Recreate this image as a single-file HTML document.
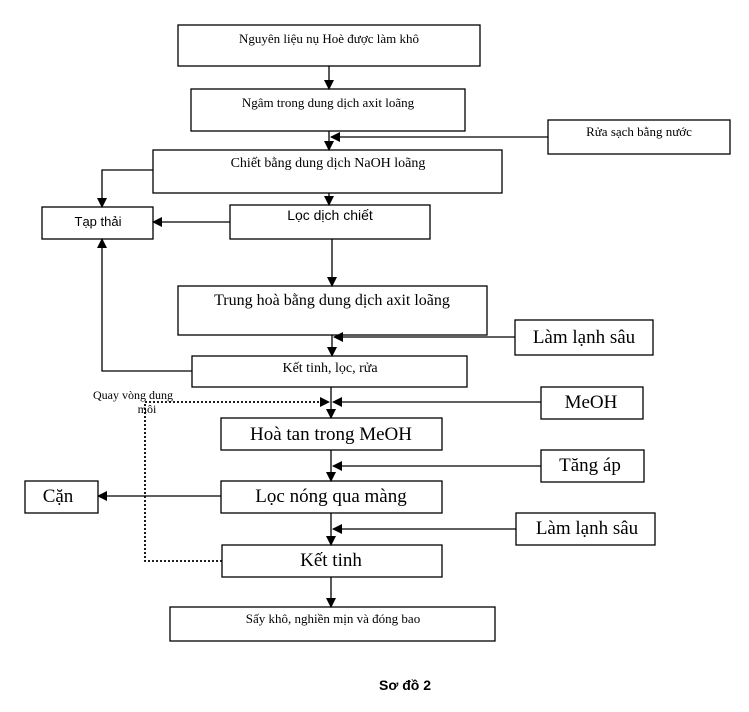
<!DOCTYPE html>
<html><head><meta charset="utf-8"><style>
body{margin:0;background:#fff;width:749px;height:707px;overflow:hidden}
</style></head><body>
<svg width="749" height="707" xmlns="http://www.w3.org/2000/svg" font-family="Liberation Serif, serif">
<defs><marker id="a" markerWidth="10" markerHeight="10" refX="9" refY="5" orient="auto" markerUnits="userSpaceOnUse"><path d="M0,0 L10,5 L0,10 z" fill="#000"/></marker></defs>
<g fill="none" stroke="#000" stroke-width="1.3">
<rect x="178" y="25" width="302" height="41"/>
<rect x="191" y="89" width="274" height="42"/>
<rect x="548" y="120" width="182" height="34"/>
<rect x="153" y="150" width="349" height="43"/>
<rect x="42" y="207" width="111" height="32"/>
<rect x="230" y="205" width="200" height="34"/>
<rect x="178" y="286" width="309" height="49"/>
<rect x="515" y="320" width="138" height="35"/>
<rect x="192" y="356" width="275" height="31"/>
<rect x="541" y="387" width="102" height="32"/>
<rect x="221" y="418" width="221" height="32"/>
<rect x="541" y="450" width="103" height="32"/>
<rect x="25" y="481" width="73" height="32"/>
<rect x="221" y="481" width="221" height="32"/>
<rect x="516" y="513" width="139" height="32"/>
<rect x="222" y="545" width="220" height="32"/>
<rect x="170" y="607" width="325" height="34"/>
<line x1="329" y1="66" x2="329" y2="89" marker-end="url(#a)"/>
<line x1="329" y1="131" x2="329" y2="150" marker-end="url(#a)"/>
<line x1="548" y1="137" x2="331" y2="137" marker-end="url(#a)"/>
<line x1="329" y1="193" x2="329" y2="205" marker-end="url(#a)"/>
<polyline points="153,170 102,170 102,207" marker-end="url(#a)"/>
<line x1="230" y1="222" x2="153" y2="222" marker-end="url(#a)"/>
<line x1="332" y1="239" x2="332" y2="286" marker-end="url(#a)"/>
<polyline points="192,371 102,371 102,239" marker-end="url(#a)"/>
<line x1="332" y1="335" x2="332" y2="356" marker-end="url(#a)"/>
<line x1="515" y1="337" x2="334" y2="337" marker-end="url(#a)"/>
<line x1="331" y1="387" x2="331" y2="418" marker-end="url(#a)"/>
<line x1="541" y1="402" x2="333" y2="402" marker-end="url(#a)"/>
<line x1="331" y1="450" x2="331" y2="481" marker-end="url(#a)"/>
<line x1="541" y1="466" x2="333" y2="466" marker-end="url(#a)"/>
<line x1="221" y1="496" x2="98" y2="496" marker-end="url(#a)"/>
<line x1="331" y1="513" x2="331" y2="545" marker-end="url(#a)"/>
<line x1="516" y1="529" x2="333" y2="529" marker-end="url(#a)"/>
<line x1="331" y1="577" x2="331" y2="607" marker-end="url(#a)"/>
<polyline points="222,561 145,561 145,402 329,402" stroke-dasharray="2,2" stroke-width="1.8" marker-end="url(#a)"/>
</g>
<g fill="#000" text-anchor="middle">
<text x="329" y="43" font-size="13">Nguyên liệu nụ Hoè được làm khô</text>
<text x="328" y="107" font-size="13">Ngâm trong dung dịch axit loãng</text>
<text x="639" y="136" font-size="13">Rửa sạch bằng nước</text>
<text x="328" y="167" font-size="14">Chiết bằng dung dịch NaOH loãng</text>
<text x="98" y="226" font-size="13" font-family="Liberation Sans, sans-serif">Tạp thải</text>
<text x="330" y="220" font-size="14" font-family="Liberation Sans, sans-serif">Lọc dịch chiết</text>
<text x="332" y="305" font-size="16">Trung hoà bằng dung dịch axit loãng</text>
<text x="584" y="343" font-size="19">Làm lạnh sâu</text>
<text x="330" y="372" font-size="14">Kết tinh, lọc, rửa</text>
<text x="591" y="408" font-size="19">MeOH</text>
<text x="331" y="440" font-size="19">Hoà tan trong MeOH</text>
<text x="590" y="471" font-size="19">Tăng áp</text>
<text x="58" y="502" font-size="19">Cặn</text>
<text x="331" y="502" font-size="19">Lọc nóng qua màng</text>
<text x="587" y="534" font-size="19">Làm lạnh sâu</text>
<text x="331" y="566" font-size="19">Kết tinh</text>
<text x="333" y="623" font-size="13">Sấy khô, nghiền mịn và đóng bao</text>
<text x="405" y="690" font-size="14" font-weight="bold" font-family="Liberation Sans, sans-serif">Sơ đồ 2</text>
<text x="133" y="399" font-size="12">Quay vòng dung</text>
<text x="147" y="413" font-size="12">môi</text>
</g>
</svg>
</body></html>
